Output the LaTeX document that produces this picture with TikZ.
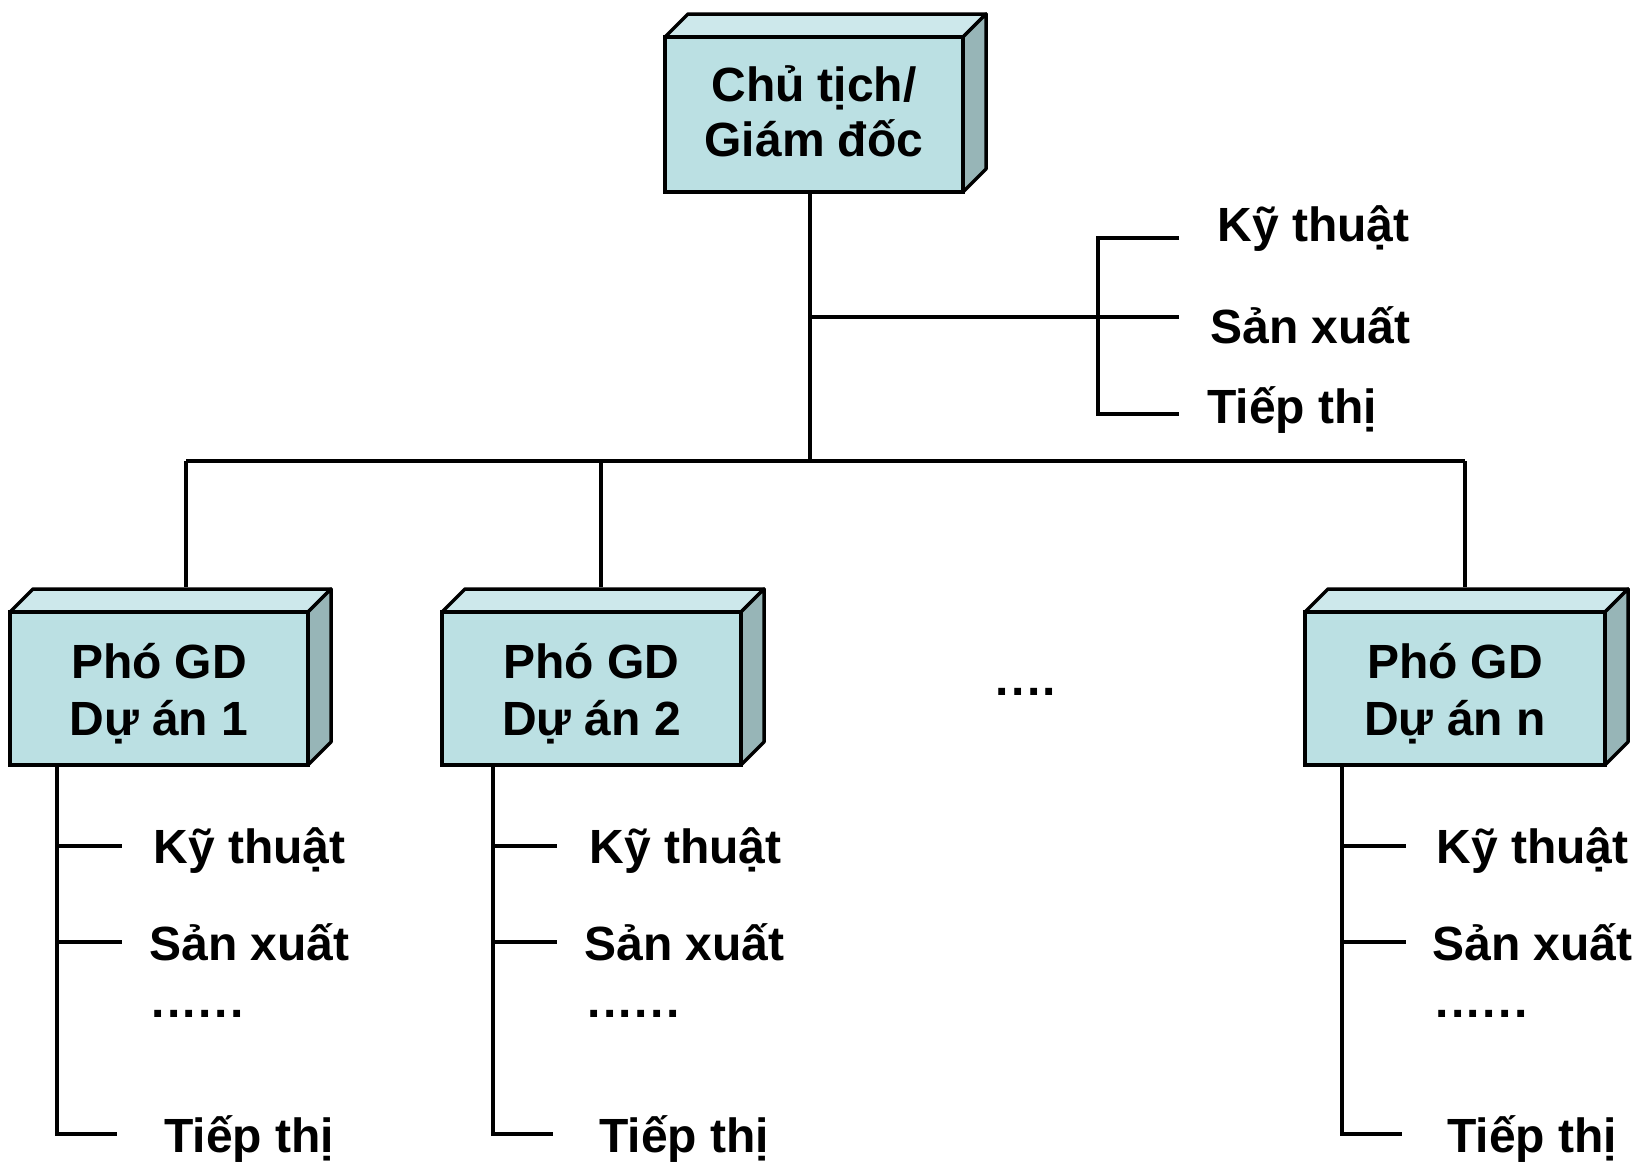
\documentclass[tikz,border=0pt]{standalone}
\usepackage{fontspec}
\setmainfont{Liberation Sans}
\usetikzlibrary{calc}
\definecolor{frontc}{HTML}{BBE0E3}
\definecolor{topc}{HTML}{CDE8EB}
\definecolor{sidec}{HTML}{97B5B7}
\tikzset{
  ln/.style={line width=1.75pt, line join=miter},
  cubeline/.style={line width=1.75pt, line join=round},
  frontbox/.style={draw, line width=1.75pt, fill=frontc, inner sep=0pt},
  lbl/.style={anchor=base west, inner sep=0pt, font=\fontsize{24}{28}\selectfont\bfseries},
  btxt/.style={anchor=base, inner sep=0pt, font=\fontsize{24}{28}\selectfont\bfseries},
}
\newcommand\dotsix{.\kern1.2pt.\kern1.2pt.\kern1.2pt.\kern1.2pt.\kern1.2pt.}
\newcommand\dotfour{.\kern1.2pt.\kern1.2pt.\kern1.2pt.}
% name, x1, y1, x2, y2
\newcommand\cubebox[5]{%
  \filldraw[cubeline, fill=topc] (#2,#3) -- (#2+23,#3-23) -- (#4+23,#3-23) -- (#4,#3) -- cycle;
  \filldraw[cubeline, fill=sidec] (#4,#3) -- (#4+23,#3-23) -- (#4+23,#5-23) -- (#4,#5) -- cycle;
  \node[frontbox, minimum width={(#4-#2)*0.5pt}, minimum height={(#5-#3)*0.5pt}] (#1) at ({(#2+#4)/2},{(#3+#5)/2}) {};
}
\begin{document}
\begin{tikzpicture}[x=0.5pt,y=-0.5pt]
\useasboundingbox (0,0) rectangle (1640,1163);

% boxes
\cubebox{top}{665}{37}{963}{192}
\cubebox{p1}{10}{612}{308}{765}
\cubebox{p2}{442}{612}{741}{765}
\cubebox{pn}{1305}{612}{1605}{765}

\node[btxt] (topa) at (top.center |- 0,101) {Chủ tịch/};
\node[btxt] (topb) at (top.center |- 0,156) {Giám đốc};
\node[btxt] (p1a) at (p1.center |- 0,678) {Phó GD};
\node[btxt] (p1b) at (p1.center |- 0,735) {Dự án 1};
\node[btxt] (p2a) at (p2.center |- 0,678) {Phó GD};
\node[btxt] (p2b) at (p2.center |- 0,735) {Dự án 2};
\node[btxt] (pna) at (pn.center |- 0,678) {Phó GD};
\node[btxt] (pnb) at (pn.center |- 0,735) {Dự án n};

\node[btxt] (mdots) at (1026,695) {\dotfour};

% main tree
\coordinate (hub) at (810,461);
\coordinate (bl) at (186,461);
\coordinate (bm) at (601,461);
\coordinate (br) at (1465,461);
\draw[ln] (top.south -| hub) -- (hub);
\draw[ln] (bl) -- (br);
\draw[ln] (bl) -- ($(bl |- p1.north)+(0,-23)$);
\draw[ln] (bm) -- ($(bm |- p2.north)+(0,-23)$);
\draw[ln] (br) -- ($(br |- pn.north)+(0,-23)$);

% right staff branch
\coordinate (sj) at (810,317);
\coordinate (sk) at (1179,238);
\coordinate (ss) at (1179,317);
\coordinate (st) at (1179,414);
\draw[ln] (sj) -- (ss);
\draw[ln] (sk) -- (1098,238) -- (1098,414) -- (st);
\node[lbl] (rk) at (1217,241) {Kỹ thuật};
\node[lbl] (rs) at (1210,343) {Sản xuất};
\node[lbl] (rt) at (1207,423) {Tiếp thị};

% group 1
\coordinate (g1) at (57,1134);
\draw[ln] (p1.south -| g1) -- (g1) -- (117,1134);
\draw[ln] (57,846) -- (122,846);
\draw[ln] (57,942) -- (122,942);
\node[lbl] (g1k) at (153,863) {Kỹ thuật};
\node[lbl] (g1s) at (149,960) {Sản xuất};
\node[lbl] (g1d) at (151,1017) {\dotsix};
\node[lbl] (g1t) at (164,1152) {Tiếp thị};

% group 2
\coordinate (g2) at (493,1134);
\draw[ln] (p2.south -| g2) -- (g2) -- (553,1134);
\draw[ln] (493,846) -- (557,846);
\draw[ln] (493,942) -- (557,942);
\node[lbl] (g2k) at (589,863) {Kỹ thuật};
\node[lbl] (g2s) at (584,960) {Sản xuất};
\node[lbl] (g2d) at (587,1017) {\dotsix};
\node[lbl] (g2t) at (599,1152) {Tiếp thị};

% group n
\coordinate (gn) at (1342,1134);
\draw[ln] (pn.south -| gn) -- (gn) -- (1402,1134);
\draw[ln] (1342,846) -- (1406,846);
\draw[ln] (1342,942) -- (1406,942);
\node[lbl] (gnk) at (1436,863) {Kỹ thuật};
\node[lbl] (gns) at (1432,960) {Sản xuất};
\node[lbl] (gnd) at (1435,1017) {\dotsix};
\node[lbl] (gnt) at (1447,1152) {Tiếp thị};
\end{tikzpicture}
\end{document}
